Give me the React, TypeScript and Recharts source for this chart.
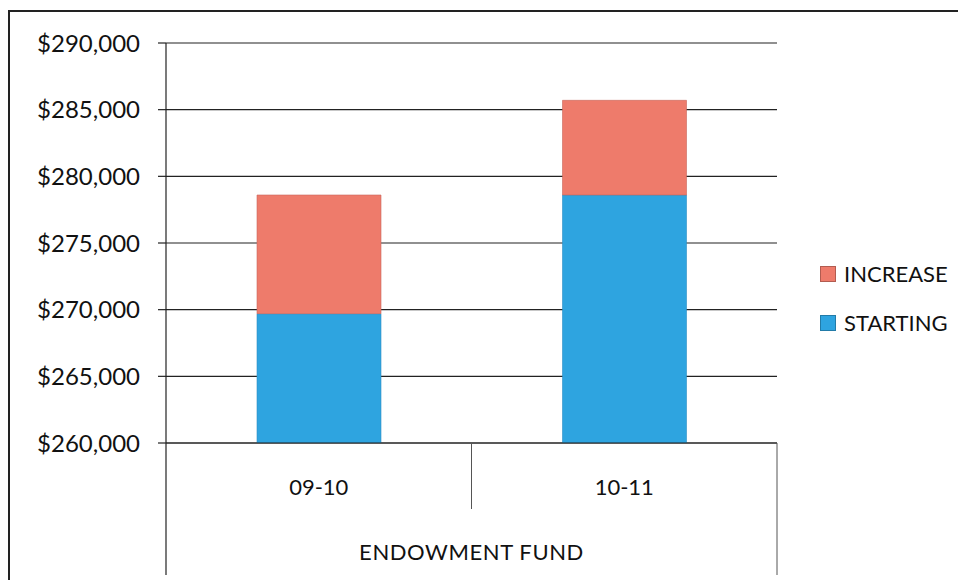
import React from "react";
import {
  BarChart,
  Bar,
  XAxis,
  YAxis,
  CartesianGrid,
  Legend,
} from "recharts";

const categories = ["09-10", "10-11"];
const starting = [269700, 278600];
const increase = [8900, 7100];
const yTicks = [260000, 265000, 270000, 275000, 280000, 285000, 290000];
const groupLabel = "ENDOWMENT FUND";

const series = [
  { key: "increase", name: "INCREASE", color: "#ee7b6b" },
  { key: "starting", name: "STARTING", color: "#2ea4e0" },
];

const data = categories.map((year, i) => ({
  year,
  starting: starting[i],
  increase: increase[i],
}));

const FONT = "Lato, 'Open Sans', sans-serif";
const LINE = "#222";

function CategoryTick(props: any) {
  const { x, y, payload, visibleTicksCount } = props;
  const half = payload.offset || 0;
  const last = payload.index === (visibleTicksCount || categories.length) - 1;
  return (
    <g>
      <text
        x={x}
        y={y + 52}
        textAnchor="middle"
        fontSize={22}
        fontFamily={FONT}
        fill="#111"
      >
        {payload.value}
      </text>
      {payload.index === 0 && (
        <>
          <line x1={x - half} y1={y} x2={x - half} y2={y + 132} stroke={LINE} strokeWidth={1.2} />
          <text
            x={x + half}
            y={y + 117}
            textAnchor="middle"
            fontSize={22}
            fontFamily={FONT}
            letterSpacing={0.6}
            fill="#111"
          >
            {groupLabel}
          </text>
        </>
      )}
      {!last && (
        <line x1={x + half} y1={y} x2={x + half} y2={y + 66} stroke="#555" strokeWidth={1} />
      )}
      {last && (
        <line x1={x + half} y1={y} x2={x + half} y2={y + 132} stroke="#555" strokeWidth={1} />
      )}
    </g>
  );
}

function LegendContent() {
  return (
    <div style={{ fontFamily: FONT, fontSize: 22, color: "#111" }}>
      {series.map((s) => (
        <div
          key={s.key}
          style={{ display: "flex", alignItems: "center", height: 49 }}
        >
          <span
            style={{
              display: "inline-block",
              width: 14,
              height: 14,
              background: s.color,
              border: "1px solid rgba(0,0,0,0.25)",
              marginRight: 8,
            }}
          />
          {s.name}
        </div>
      ))}
    </div>
  );
}

export default function App() {
  return (
    <div
      style={{
        marginTop: 2,
        width: 956,
        height: 568,
        borderTop: `2px solid ${LINE}`,
        borderLeft: `2px solid ${LINE}`,
        background: "#fff",
      }}
    >
      <BarChart
        width={956}
        height={568}
        data={data}
        margin={{ top: 31, right: 189, bottom: 5, left: 0 }}
        barSize={124}
      >
        <CartesianGrid vertical={false} stroke={LINE} strokeWidth={1.2} />
        <XAxis
          dataKey="year"
          height={132}
          tickLine={false}
          tickSize={0}
          tickMargin={0}
          axisLine={{ stroke: LINE, strokeWidth: 1.2 }}
          tick={<CategoryTick />}
          interval={0}
        />
        <YAxis
          width={156}
          domain={[260000, 290000]}
          ticks={yTicks}
          tickSize={8}
          tickMargin={18}
          tickLine={{ stroke: LINE, strokeWidth: 1.2 }}
          axisLine={{ stroke: LINE, strokeWidth: 1.2 }}
          tick={{ fontSize: 24, fontFamily: FONT, fill: "#111" }}
          tickFormatter={(v: number) => `$${v.toLocaleString("en-US")}`}
          allowDataOverflow
        />
        <Legend
          layout="horizontal"
          verticalAlign="middle"
          align="center"
          content={<LegendContent />}
          wrapperStyle={{ position: "absolute", left: 810, top: 237, width: 150 }}
        />
        <Bar
          dataKey="starting"
          name="STARTING"
          stackId="a"
          fill="#2ea4e0"
          stroke="#2b8fc4"
          strokeWidth={0.6}
          isAnimationActive={false}
        />
        <Bar
          dataKey="increase"
          name="INCREASE"
          stackId="a"
          fill="#ee7b6b"
          stroke="#c9675a"
          strokeWidth={0.6}
          isAnimationActive={false}
        />
      </BarChart>
    </div>
  );
}
